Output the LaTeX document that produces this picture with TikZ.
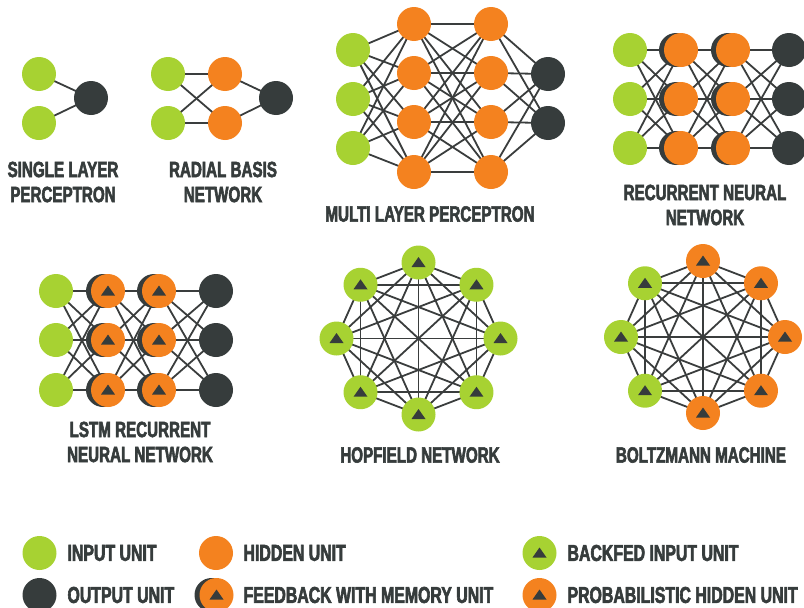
\documentclass[tikz,border=0pt]{standalone}
\usepackage{fontspec}
\newfontfamily\lblfont{Liberation Sans Bold}[FakeStretch=0.69,FakeBold=2.6]
\usetikzlibrary{backgrounds,shadows}

\definecolor{ingreen}{HTML}{A7D232}
\definecolor{hidorange}{HTML}{F4821F}
\definecolor{outdark}{HTML}{363C3C}
\definecolor{wiregray}{HTML}{3A3D3D}

\begin{document}
\begin{tikzpicture}[x=1pt,y=-1pt,
    unit/.style={circle,minimum size=34pt,inner sep=0pt},
    inunit/.style={unit,fill=ingreen},
    hidunit/.style={unit,fill=hidorange},
    outunit/.style={unit,fill=outdark},
    memunit/.style={hidunit,general shadow={fill=outdark,shadow xshift=-5pt}},
    tri/.style={path picture={\fill[outdark,shift={(path picture bounding box.center)}]
        (-7pt,-4.5pt) -- (7pt,-4.5pt) -- (0pt,5.5pt) -- cycle;}},
    wire/.style={draw=wiregray,line width=1.8pt},
    title/.style={text=outdark,font=\lblfont\fontsize{22}{25}\selectfont,align=center},
    key/.style={text=outdark,font=\lblfont\fontsize{23}{26}\selectfont,anchor=west}]

    \useasboundingbox (0,0) rectangle (804,608);

    % single layer perceptron
    \node[inunit] (sIn1) at (39,74) {};
    \node[inunit] (sIn2) at (39,123) {};
    \node[outunit] (sOut) at (91,98) {};
    \node[title] (sName) at (63,182) {SINGLE LAYER\\PERCEPTRON};

    % radial basis network
    \foreach \i/\y in {1/74,2/123} {
        \node[inunit] (rIn\i) at (168,\y) {};
        \node[hidunit] (rHid\i) at (225,\y) {};
    }
    \node[outunit] (rOut) at (276,98) {};
    \node[title] (rName) at (223,182) {RADIAL BASIS\\NETWORK};

    % multi layer perceptron
    \foreach \i/\y in {1/50,2/99,3/148} \node[inunit] (mIn\i) at (353,\y) {};
    \foreach \i/\y in {1/24,2/73,3/122,4/172} {
        \node[hidunit] (mHa\i) at (414,\y) {};
        \node[hidunit] (mHb\i) at (491,\y) {};
    }
    \foreach \i/\y in {1/74,2/123} \node[outunit] (mOut\i) at (548,\y) {};
    \node[title] (mName) at (430,214) {MULTI LAYER PERCEPTRON};

    % recurrent neural network
    \foreach \i/\y in {1/50,2/99,3/148} {
        \node[inunit] (nIn\i) at (630,\y) {};
        \node[memunit] (nHa\i) at (681,\y) {};
        \node[memunit] (nHb\i) at (733,\y) {};
        \node[outunit] (nOut\i) at (789,\y) {};
    }
    \node[title] (nName) at (705,205) {RECURRENT NEURAL\\NETWORK};

    % lstm
    \foreach \i/\y in {1/291,2/340,3/390} {
        \node[inunit] (lIn\i) at (56,\y) {};
        \node[memunit,tri] (lHa\i) at (108,\y) {};
        \node[memunit,tri] (lHb\i) at (159,\y) {};
        \node[outunit] (lOut\i) at (216,\y) {};
    }
    \node[title] (lName) at (140,442) {LSTM RECURRENT\\NEURAL NETWORK};

    % hopfield network
    \foreach \k in {0,...,7}
        \node[inunit,tri] (h\k) at ({418.5+82*cos(90-45*\k)},{338.5-76*sin(90-45*\k)}) {};
    \node[title] (hName) at (420,455) {HOPFIELD NETWORK};

    % boltzmann machine
    \foreach \k/\kind in {0/hidunit,1/hidunit,2/hidunit,3/hidunit,4/hidunit,5/inunit,6/inunit,7/inunit}
        \node[\kind,tri] (b\k) at ({703+82*cos(90-45*\k)},{337-76*sin(90-45*\k)}) {};
    \node[title] (bName) at (701,455) {BOLTZMANN MACHINE};

    % legend
    \node[inunit] (kIn) at (39.5,553) {};
    \node[key] at (64,553) {INPUT UNIT};
    \node[outunit] (kOut) at (39.5,595) {};
    \node[key] at (64,595) {OUTPUT UNIT};
    \node[hidunit] (kHid) at (216,553) {};
    \node[key] at (240,553) {HIDDEN UNIT};
    \node[memunit,tri] (kMem) at (216.5,595) {};
    \node[key] at (240,595) {FEEDBACK WITH MEMORY UNIT};
    \node[inunit,tri] (kBack) at (539.5,553) {};
    \node[key] at (564,553) {BACKFED INPUT UNIT};
    \node[hidunit,tri] (kProb) at (539.5,595) {};
    \node[key] at (564,595) {PROBABILISTIC HIDDEN UNIT};

    \begin{scope}[on background layer]
        \draw[wire] (sIn1.center) -- (sOut.center) (sIn2.center) -- (sOut.center);
        \foreach \i in {1,2} {
            \draw[wire] (rHid\i.center) -- (rOut.center);
            \foreach \j in {1,2} \draw[wire] (rIn\i.center) -- (rHid\j.center);
        }
        \foreach \i in {1,2,3} \foreach \j in {1,...,4}
            \draw[wire] (mIn\i.center) -- (mHa\j.center);
        \foreach \i in {1,...,4} {
            \foreach \j in {1,...,4} \draw[wire] (mHa\i.center) -- (mHb\j.center);
            \foreach \j in {1,2} \draw[wire] (mHb\i.center) -- (mOut\j.center);
        }
        \foreach \i in {1,2,3} \foreach \j in {1,2,3} {
            \draw[wire] (nIn\i.center) -- (nHa\j.center) (nHa\i.center) -- (nHb\j.center)
                (nHb\i.center) -- (nOut\j.center);
            \draw[wire] (lIn\i.center) -- (lHa\j.center) (lHa\i.center) -- (lHb\j.center)
                (lHb\i.center) -- (lOut\j.center);
        }
        \foreach \a in {0,...,6} {
            \pgfmathtruncatemacro\nxt{\a+1}
            \foreach \b in {\nxt,...,7} {
                \draw[wire] (h\a.center) -- (h\b.center);
                \draw[wire] (b\a.center) -- (b\b.center);
            }
        }
    \end{scope}

\end{tikzpicture}
\end{document}
